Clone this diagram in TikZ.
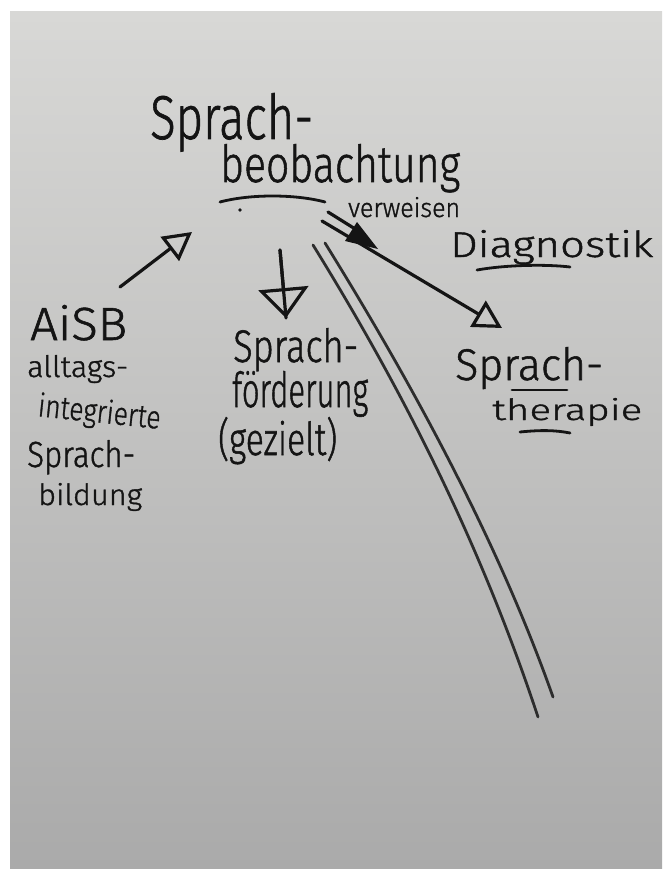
\documentclass[tikz,border=0pt]{standalone}
\usepackage{fontspec}
\setmainfont{Fira Sans Light}[FakeBold=1.2,UprightFeatures={FakeBold=1.2}]
\usetikzlibrary{arrows.meta}
\definecolor{ink}{RGB}{20,20,20}
\definecolor{lineink}{RGB}{45,45,45}
\definecolor{paperTop}{RGB}{216,216,214}
\definecolor{paperMid}{RGB}{198,198,198}
\definecolor{paperBot}{RGB}{170,170,170}
\newcommand{\hw}[3]{\resizebox{#1pt}{#2pt}{#3}}
\newcommand{\nodepth}[1]{\raisebox{0pt}[\height][0pt]{#1}}
\begin{document}
\begin{tikzpicture}[x=1pt,y=-1pt,
  txt/.style={anchor=base west,inner sep=0pt,text=ink},
  pen/.style={draw=ink,line width=3.2pt,line cap=round,line join=round},
  thinpen/.style={draw=ink,line width=2.8pt,line cap=round},
  rail/.style={draw=lineink,line width=2.8pt,line cap=round},
  opentip/.style={-{Triangle[open,length=#1]}}]
\useasboundingbox (0,0) rectangle (662,869);
\fill[white] (0,0) rectangle (662,869);
\shade[top color=paperTop,middle color=paperMid,bottom color=paperBot] (10,12) rectangle (662,869);

% texts
\node[txt] (t1) at (150,139) {\nodepth{\hw{163}{46}{Sprach-}}};
\node[txt] (t2) at (220,182) {\hw{240}{38}{beobachtung}};
\node[txt] (verw) at (348,217) {\hw{112}{20}{verweisen}};
\node[txt] (diag) at (450,257) {\hw{203}{27}{Diagnostik}};
\node[txt] (th1) at (455,380) {\hw{148}{33}{Sprach-}};
\node[txt] (th2) at (492,420) {\hw{150}{22}{therapie}};
\node[txt] (aisb) at (30,340) {\hw{97}{35}{AiSB}};
\node[txt] (a1) at (27,377) {\hw{101}{22}{alltags-}};
\node[txt,rotate=-6] (a2) at (37,416) {\hw{123}{24}{integrierte}};
\node[txt] (a3) at (27,467) {\hw{108}{27}{Sprach-}};
\node[txt] (a4) at (38,505) {\hw{104}{22}{bildung}};
\node[txt] (f1) at (233,362) {\hw{125}{34}{Sprach-}};
\node[txt] (f2) at (232,407) {\hw{136}{36}{förderung}};
\node[txt] (f3) at (218,455) {\hw{119}{38}{(gezielt)}};

% underlines
\draw[thinpen] (220,202) .. controls (250,194) and (295,194) .. (325,202);
\fill[ink] (240,210) circle (1.8);
\draw[thinpen] (477,270) .. controls (505,265) and (545,264) .. (570,267);
\draw[thinpen] (512,390) -- (567,390);
\draw[thinpen] (520,432) .. controls (540,430) and (555,430) .. (570,433);

% arrows
\coordinate (upS) at (120,287);
\coordinate (upE) at (192,232);
\draw[pen,opentip={28pt,width=30pt}] (upS) -- (upE);

\coordinate (dS) at (280,250);
\coordinate (dE) at (286,318);
\draw[pen] (dS) -- (dE);
\draw[pen,opentip={30pt,width=50pt}] (dS) -- (dE);

\coordinate (v1) at (322,221);
\coordinate (v2) at (328,212);
\coordinate (v3) at (360,232);
\coordinate (vT) at (502,328);
\draw[pen,opentip={28pt,width=30pt}] (v1) -- (vT);
\draw[pen] (v2) -- (v3);
\fill[ink] (345,241) -- (357,222) -- (378,249) -- cycle;

% long double line
\coordinate (r1s) at (313,245);
\coordinate (r1e) at (538,717);
\coordinate (r2s) at (325,243);
\coordinate (r2e) at (553,697);
\draw[rail] (r1s) .. controls (412,405) and (485,557) .. (r1e);
\draw[rail] (r2s) .. controls (418,393) and (500,547) .. (r2e);
\end{tikzpicture}
\end{document}
